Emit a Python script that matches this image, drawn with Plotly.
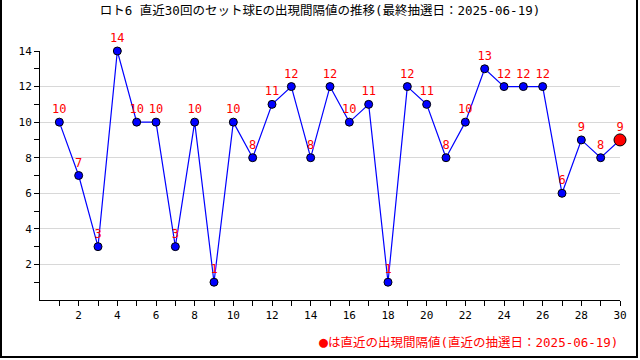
import plotly.graph_objects as go

draws = list(range(1, 31))
intervals = [10, 7, 3, 14, 10, 10, 3, 10, 1, 10, 8, 11, 12, 8, 12, 10, 11, 1, 12, 11, 8, 10, 13, 12, 12, 12, 6, 9, 8, 9]
title_text = "ロト6 直近30回のセット球Eの出現間隔値の推移(最終抽選日：2025-06-19)"
note_text = "<span style='font-size:15px'>●</span>は直近の出現間隔値(直近の抽選日：2025-06-19)"
x_tickvals = list(range(2, 31, 2))
y_tickvals = list(range(2, 15, 2))

FONT = "DejaVu Sans Mono, Noto Sans CJK JP"

fig = go.Figure()
fig.add_trace(go.Scatter(
    x=draws, y=intervals, mode="lines+markers+text",
    line=dict(color="#0000ff", width=1.2),
    marker=dict(color="#0000ff", size=8, line=dict(color="black", width=1)),
    text=[str(v) for v in intervals], textposition="top center",
    textfont=dict(color="#ff0000", size=12, family=FONT),
    cliponaxis=False, hoverinfo="skip", showlegend=False,
))
fig.add_trace(go.Scatter(
    x=[draws[-1]], y=[intervals[-1]], mode="markers",
    marker=dict(color="#ff0000", size=12, line=dict(color="black", width=1)),
    cliponaxis=False, hoverinfo="skip", showlegend=False,
))

fig.update_layout(
    width=640, height=360,
    margin=dict(l=40, r=20, t=51, b=60),
    paper_bgcolor="white", plot_bgcolor="white",
    font=dict(family=FONT, size=12, color="black"),
    title=dict(text=title_text, x=0.5, xanchor="center", y=0.97, yanchor="middle",
               font=dict(size=12.5, family=FONT, color="black")),
    xaxis=dict(range=[0, 30], tickvals=x_tickvals, ticks="outside", ticklen=5,
               tickcolor="black", showline=True, linecolor="black", linewidth=1,
               showgrid=False, zeroline=False,
               minor=dict(tickvals=list(range(1, 31, 2)), ticks="outside", ticklen=5, tickcolor="black"),
               tickfont=dict(size=11)),
    yaxis=dict(range=[0, 14], tickvals=y_tickvals, ticks="outside", ticklen=5,
               tickcolor="black", showline=True, linecolor="black", linewidth=1,
               showgrid=True, gridcolor="#d8d8d8", gridwidth=1, zeroline=False,
               minor=dict(tickvals=list(range(1, 15, 2)), ticks="outside", ticklen=5, tickcolor="black", showgrid=False),
               tickfont=dict(size=11)),
    shapes=[dict(type="rect", xref="paper", yref="paper",
                 x0=-39/580, x1=1 + 17/580, y0=-57/249, y1=1 + 52/249,
                 line=dict(color="black", width=2), fillcolor="rgba(0,0,0,0)")],
    annotations=[dict(text=note_text, xref="paper", yref="paper", x=1, y=-42/249,
                      xanchor="right", yanchor="middle", showarrow=False,
                      font=dict(color="#ff0000", size=12.5, family=FONT))],
)

fig.write_html("out.html", config={"displayModeBar": False},
               post_script="document.body.style.margin='0px';")
